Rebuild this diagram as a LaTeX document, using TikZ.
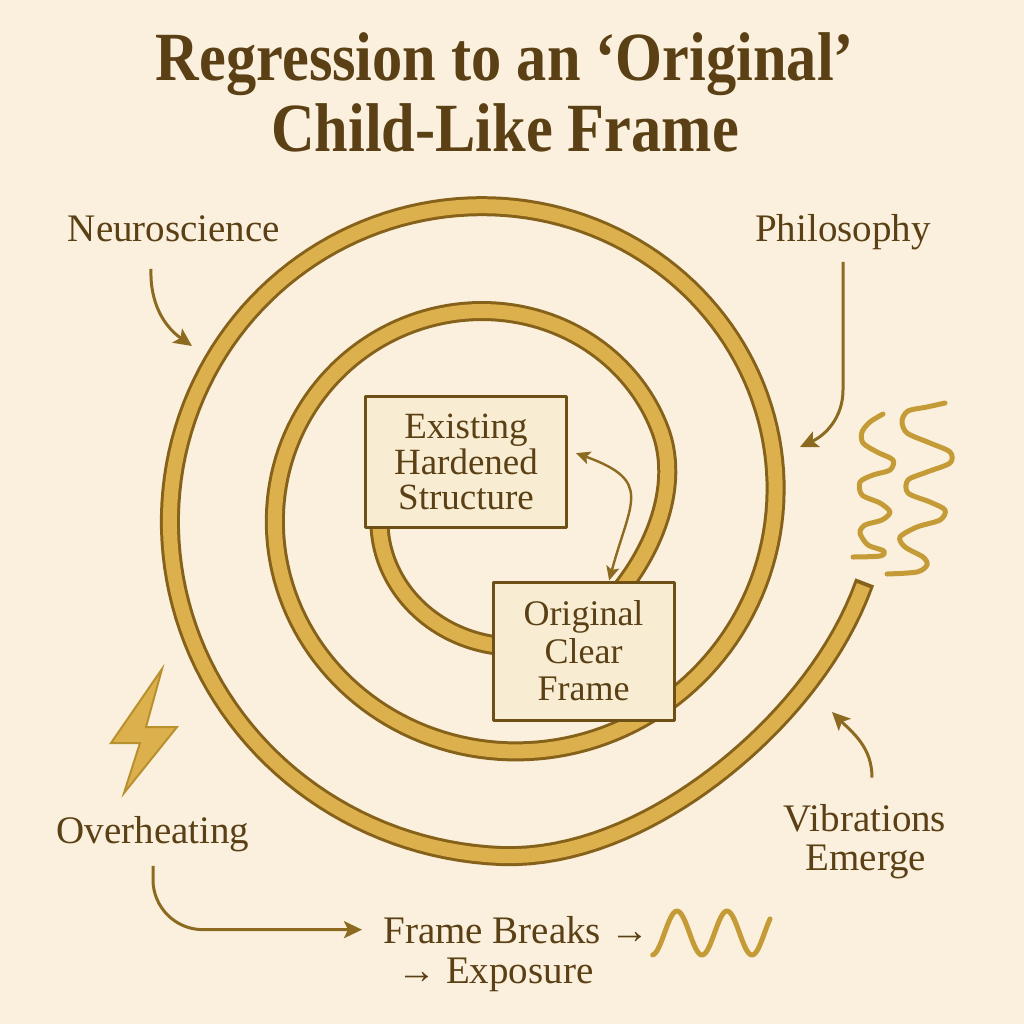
\documentclass[tikz,border=0pt]{standalone}
\usepackage{fontspec}
\setmainfont{Liberation Serif}
\newfontfamily\titlefont[FakeStretch=0.875]{Liberation Serif}
\usetikzlibrary{arrows.meta}
\definecolor{bgcream}{HTML}{FAF0DD}
\definecolor{ink}{HTML}{5A4014}
\definecolor{ringgold}{HTML}{DDB04E}
\definecolor{ringedge}{HTML}{85611A}
\definecolor{arrowbrown}{HTML}{8C6A1F}
\definecolor{wavegold}{HTML}{C49B36}
\definecolor{boltedge}{HTML}{B8902E}
\definecolor{boxfill}{HTML}{F8EDD2}
\definecolor{boxedge}{HTML}{6E5016}
\begin{document}
\begin{tikzpicture}[x=0.5pt, y=0.5pt, line join=round,
	declare function={bp(\u)=max(0,1-\u*\u)*max(0,1-\u*\u); bmp(\t)=12*bp((\t+25)/50)+18*bp((\t-675)/45);},
	lbl/.style={text=ink, inner sep=0pt, font=\fontsize{19.5}{19.5}\selectfont},
	ttl/.style={text=ink, inner sep=0pt, font=\titlefont\bfseries\fontsize{34.5}{34.5}\selectfont},
	boxnode/.style={draw=boxedge, fill=boxfill, line width=1.5pt, text=ink, align=center, inner sep=0pt},
	arr/.style={draw=arrowbrown, line width=1.5pt, -{Stealth[length=9pt,width=8.5pt,inset=2pt]}},
	squig/.style={draw=wavegold, line width=2.5pt, line cap=round}]
	\def\cx{499}\def\cy{-505}
	\useasboundingbox (0,0) rectangle (1024,-1024);
	\fill[bgcream] (0,0) rectangle (1024,-1024);
	\node[ttl, anchor=base] (title1) at (505,-80) {Regression to an ‘Original’};
	\node[ttl, anchor=base] (title2) at (505,-151) {Child-Like Frame};
	\node[lbl, anchor=base] (neuro) at (174,-241) {Neuroscience};
	\node[lbl, anchor=base] (philo) at (843,-241) {Philosophy};
	\node[lbl, anchor=base] (overheat) at (153,-843) {Overheating};
	\node[lbl, anchor=base] (vib) at (865,-831) {Vibrations};
	\node[lbl, anchor=base] (vibb) at (866,-870) {Emerge};
	\node[lbl, anchor=base west] (frame) at (383,-943) {Frame Breaks →};
	\node[lbl, anchor=base west] (expo) at (397,-983) {→ Exposure};
	\draw[ringedge, line width=10pt, samples=400, domain=-175:708] plot ({\cx+(171+0.292*\x-bmp(\x))*cos(\x)}, {\cy+(167+0.292*\x-bmp(\x))*sin(\x)});
	\draw[ringgold, line width=7pt, samples=400, domain=-174:707.4] plot ({\cx+(171+0.292*\x-bmp(\x))*cos(\x)}, {\cy+(167+0.292*\x-bmp(\x))*sin(\x)});
	\node[boxnode, minimum width=100.5pt, minimum height=65.5pt, font=\fontsize{18.5}{17.75}\selectfont] (exist) at (466,-462) {Existing\\Hardened\\Structure};
	\node[boxnode, minimum width=90.5pt, minimum height=69pt, font=\fontsize{18}{18.75}\selectfont] (orig) at (583.5,-651) {Original\\Clear\\Frame};
	\coordinate (ntip) at (192,-346);
	\coordinate (ptip) at (800,-447);
	\coordinate (vtip) at (832,-712);
	\draw[arr] ([xshift=-11.5pt,yshift=-13.5pt]neuro.south) to[out=-92,in=145] (ntip);
	\draw[arr] ([yshift=-6pt]philo.south) -- ++(0,-128) to[out=-90,in=25] (ptip);
	\draw[arr] ([xshift=3.5pt,yshift=13pt]vib.north) to[out=90,in=-45] (vtip);
	\draw[arr, rounded corners=25pt] ([yshift=-7pt]overheat.south) |- ([xshift=-10.5pt]frame.west);
	\draw[arr, line width=1.2pt, {Stealth[length=7pt,width=6.5pt,inset=1.5pt]}-{Stealth[length=7pt,width=6.5pt,inset=1.5pt]}] ([xshift=4pt]exist.5) to[out=-20,in=75,looseness=1.6] (orig.70);
	\draw[squig, smooth] plot coordinates {(883,-414) (870,-422) (862,-432) (863,-443) (877,-452) (893,-460) (890,-470) (873,-475) (860,-482) (862,-495) (880,-503) (890,-512) (882,-520) (865,-525) (860,-533) (868,-545) (884,-551) (880,-556) (853,-557)};
	\draw[squig, smooth] plot coordinates {(945,-403) (927,-407) (908,-411) (902,-421) (907,-433) (930,-443) (950,-452) (950,-463) (927,-472) (908,-480) (908,-493) (930,-502) (945,-510) (940,-520) (917,-527) (900,-537) (905,-547) (923,-557) (927,-565) (917,-572) (887,-574)};
	\draw[squig, smooth, samples=80, domain=-85:760] plot ({677+(\x-90)/7.2}, {-933+22*sin(\x)});
	\filldraw[fill=ringgold, draw=boltedge, line width=1pt, line join=miter] (162,-669) -- (111,-743) -- (140,-743) -- (124,-793) -- (177,-727) -- (146,-727) -- cycle;
\end{tikzpicture}
\end{document}
